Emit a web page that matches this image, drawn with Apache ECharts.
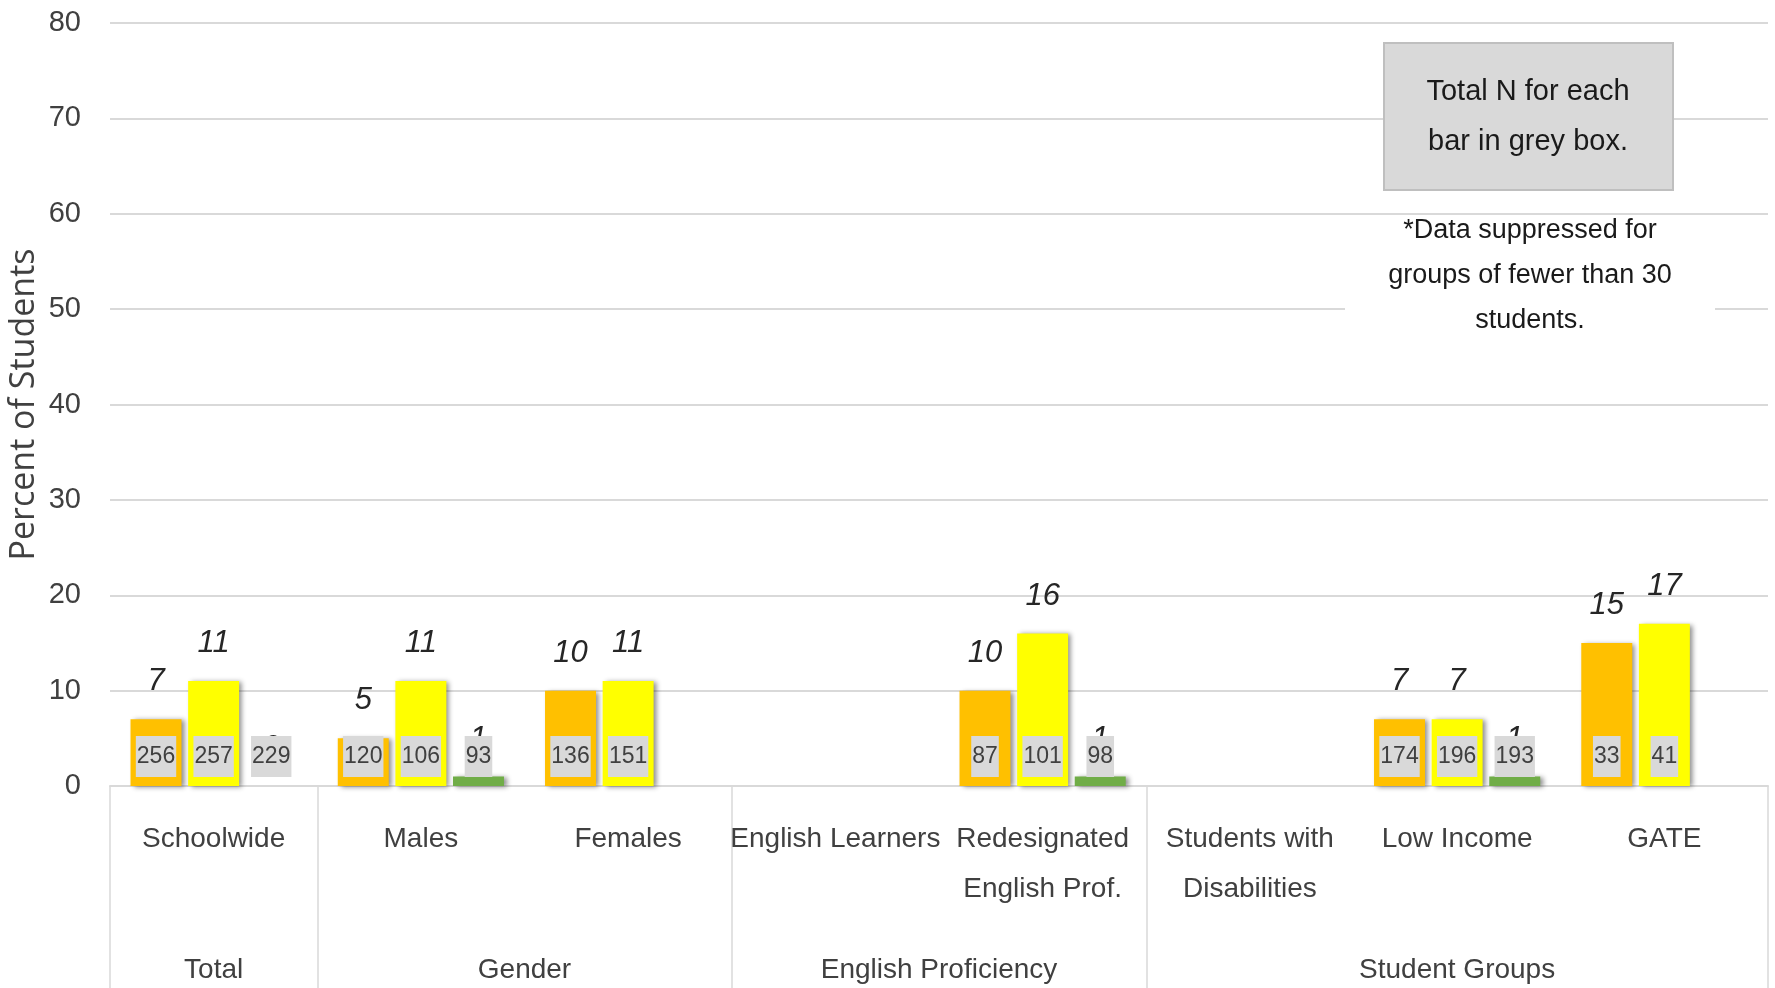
<!DOCTYPE html>
<html>
<head>
  <meta charset="utf-8">
  <script src="https://cdn.jsdelivr.net/npm/echarts@6/dist/echarts.min.js"></script>
  <style>
    html, body { margin: 0; padding: 0; background: #fff; }
    #chart { width: 1775px; height: 988px; }
  </style>
</head>
<body>
<div id="chart"></div>
<script>
  // categories and groups
  const categories = ['Schoolwide', 'Males', 'Females', 'English Learners', 'Redesignated\nEnglish Prof.',
    'Students with\nDisabilities', 'Low Income', 'GATE']
  const groupNames = ['Total', 'Gender', 'English Proficiency', 'Student Groups']
  const groupCenters = [0.5, 2, 4, 6.5]
  const groupEdges = [0, 1, 3, 5, 8]

  // percent of students (null = suppressed)
  const orangeValues = [7, 5, 10, null, 10, null, 7, 15]
  const yellowValues = [11, 11, 11, null, 16, null, 7, 17]
  const greenValues = [0, 1, null, null, 1, null, 1, null]

  // total N per bar, shown in grey box
  const orangeN = [256, 120, 136, null, 87, null, 174, 33]
  const yellowN = [257, 106, 151, null, 101, null, 196, 41]
  const greenN = [229, 93, null, null, 98, null, 193, null]

  const yTicks = { min: 0, max: 80, interval: 10 }

  const FONT = "'Liberation Sans', Arial, sans-serif"
  const BAR_W = '24.6%'
  const BAR_GAP = '13%'

  const chart = echarts.init(document.getElementById('chart'))

  function valueSeries(name, color, values) {
    return {
      name: name,
      type: 'bar',
      xAxisIndex: 0,
      barWidth: BAR_W,
      barGap: BAR_GAP,
      z: 2,
      itemStyle: {
        color: color,
        shadowColor: 'rgba(0,0,0,0.45)',
        shadowBlur: 5,
        shadowOffsetX: 3,
        shadowOffsetY: 1
      },
      label: {
        show: true,
        position: 'top',
        distance: 22,
        fontFamily: FONT,
        fontStyle: 'italic',
        fontSize: 31,
        color: '#262626'
      },
      data: values.map(v => (v == null ? '-' : v))
    }
  }

  // zero height bars on a hidden twin axis, only used to carry the N boxes
  function nSeries(counts) {
    return {
      type: 'bar',
      xAxisIndex: 1,
      barWidth: BAR_W,
      barGap: BAR_GAP,
      z: 10,
      silent: true,
      itemStyle: { color: 'rgba(0,0,0,0)' },
      label: {
        show: true,
        position: 'insideBottom',
        distance: 9,
        fontFamily: FONT,
        fontSize: 23,
        lineHeight: 31,
        color: '#404040',
        backgroundColor: '#d9d9d9',
        padding: [5, 1],
        formatter: p => counts[p.dataIndex]
      },
      data: counts.map(n => (n == null ? '-' : 0))
    }
  }

  chart.setOption({
    animation: false,
    grid: { left: 110, right: 7, top: 23, bottom: 202, outerBoundsMode: 'none', containLabel: false },
    xAxis: [
      {
        type: 'category',
        data: categories,
        axisLine: { lineStyle: { color: '#d9d9d9', width: 2 } },
        axisTick: { show: false },
        axisLabel: {
          interval: 0,
          margin: 28,
          fontFamily: FONT,
          fontSize: 28,
          lineHeight: 50,
          color: '#404040'
        }
      },
      {
        type: 'category',
        data: categories,
        show: false
      },
      {
        type: 'value',
        min: 0,
        max: 8,
        position: 'bottom',
        axisLine: { show: false },
        splitLine: { show: false },
        axisTick: {
          show: true,
          customValues: groupEdges,
          length: 210,
          lineStyle: { color: '#d9d9d9', width: 1.5 }
        },
        axisLabel: {
          customValues: groupCenters,
          margin: 170,
          fontFamily: FONT,
          fontSize: 28,
          color: '#404040',
          formatter: v => groupNames[groupCenters.indexOf(v)]
        }
      }
    ],
    yAxis: {
      type: 'value',
      min: yTicks.min,
      max: yTicks.max,
      interval: yTicks.interval,
      name: 'Percent of Students',
      nameLocation: 'middle',
      nameGap: 69,
      nameMoveOverlap: false,
      nameTextStyle: { fontFamily: "'Open Sans', sans-serif", fontSize: 34, color: '#404040' },
      axisLine: { show: false },
      axisTick: { show: false },
      axisLabel: { margin: 29, fontFamily: FONT, fontSize: 29, color: '#404040' },
      splitLine: { lineStyle: { color: '#d9d9d9', width: 2 } }
    },
    series: [
      valueSeries('orange', '#ffc000', orangeValues),
      valueSeries('yellow', '#ffff00', yellowValues),
      valueSeries('green', '#70ad47', greenValues),
      nSeries(orangeN),
      nSeries(yellowN),
      nSeries(greenN)
    ],
    graphic: [
      {
        type: 'rect',
        shape: { x: 1384, y: 43, width: 289, height: 147 },
        style: { fill: '#d9d9d9', stroke: '#bfbfbf', lineWidth: 2 },
        z: 20
      },
      {
        type: 'text',
        x: 1528,
        y: 117,
        z: 21,
        style: {
          text: 'Total N for each\nbar in grey box.',
          fontFamily: FONT,
          fontSize: 29,
          lineHeight: 50,
          fill: '#1a1a1a',
          align: 'center',
          verticalAlign: 'middle'
        }
      },
      {
        type: 'rect',
        shape: { x: 1345, y: 216, width: 370, height: 124 },
        style: { fill: '#ffffff' },
        z: 20
      },
      {
        type: 'text',
        x: 1530,
        y: 276,
        z: 21,
        style: {
          text: '*Data suppressed for\ngroups of fewer than 30\nstudents.',
          fontFamily: FONT,
          fontSize: 27,
          lineHeight: 45,
          fill: '#1a1a1a',
          align: 'center',
          verticalAlign: 'middle'
        }
      }
    ]
  })
</script>
</body>
</html>
